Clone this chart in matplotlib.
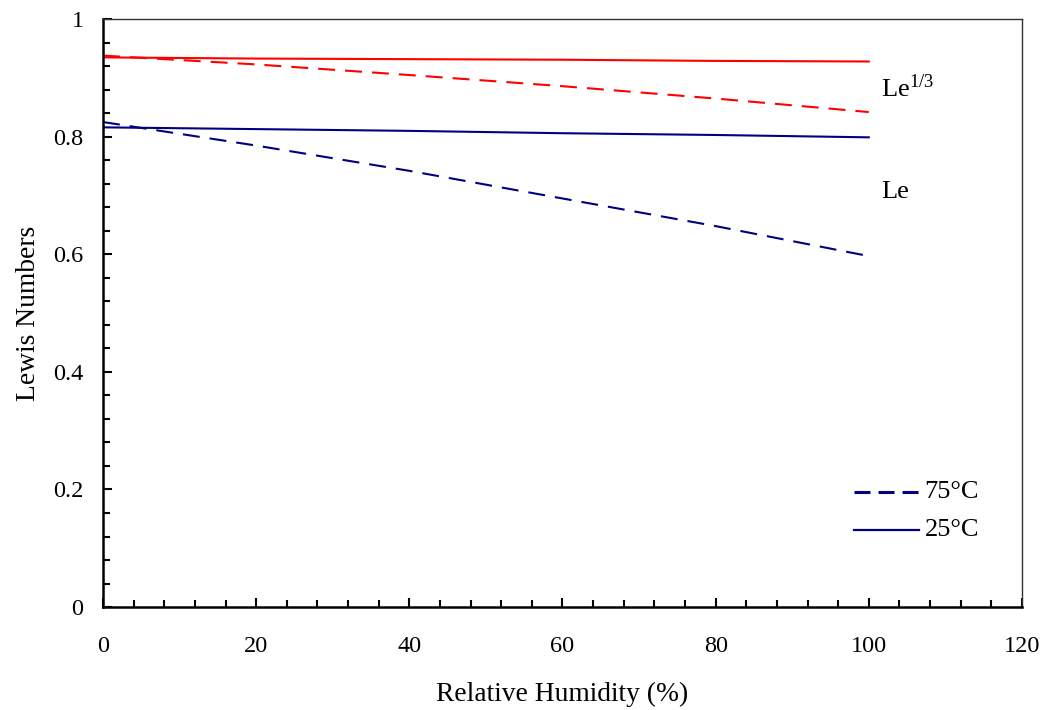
import matplotlib.pyplot as plt
from matplotlib.ticker import MultipleLocator

plt.rcParams['font.family'] = ['Liberation Serif', 'DejaVu Serif']
plt.rcParams['mathtext.fontset'] = 'stix'
plt.rcParams['lines.scale_dashes'] = False

# Lewis numbers vs relative humidity
rh = [0, 20, 40, 60, 80, 100]
le_25 = [0.816, 0.813, 0.810, 0.806, 0.803, 0.799]
le_75 = [0.825, 0.785, 0.742, 0.695, 0.648, 0.597]
le13_25 = [0.935, 0.933, 0.932, 0.931, 0.929, 0.928]
le13_75 = [0.938, 0.923, 0.905, 0.886, 0.865, 0.842]

fig = plt.figure(figsize=(10.46, 7.10), dpi=100)
ax = fig.add_axes([0.0985, 0.145, 0.8785, 0.828])

red = '#FF0000'
navy = '#000080'
dash = (0, (12.2, 7.2))

ax.plot(rh, le13_25, color=red, lw=1.5)
ax.plot(rh, le13_75, color=red, lw=1.5, linestyle=dash)
ax.plot(rh, le_25, color=navy, lw=1.5)
ax.plot(rh, le_75, color=navy, lw=1.5, linestyle=dash)

ax.text(101.6, 0.867, r'Le$^{\mathregular{1/3}}$', fontsize=19, va='baseline', ha='left')
ax.text(101.6, 0.696, 'Le', fontsize=19, va='baseline', ha='left')

# legend drawn by hand
ax.plot([98.1, 106.6], [0.196, 0.196], color=navy, lw=2.2, linestyle=(0, (11.5, 5.8)))
ax.plot([98.1, 106.6], [0.131, 0.131], color=navy, lw=1.6)
ax.text(107.3, 0.196, '75°C', fontsize=19, va='center', ha='left')
ax.text(107.3, 0.131, '25°C', fontsize=19, va='center', ha='left')

ax.set_xlim(0, 120)
ax.set_ylim(0, 1)
ax.xaxis.set_major_locator(MultipleLocator(20))
ax.xaxis.set_minor_locator(MultipleLocator(4))
ax.yaxis.set_major_locator(MultipleLocator(0.2))
ax.yaxis.set_minor_locator(MultipleLocator(0.04))
ax.set_yticks([0, 0.2, 0.4, 0.6, 0.8, 1.0], ['0', '0.2', '0.4', '0.6', '0.8', '1'])

ax.tick_params(which='both', direction='in', width=1.5, top=False, right=False, labelsize=17.5)
ax.tick_params(which='major', length=6.5)
ax.tick_params(which='minor', length=5)
ax.tick_params(axis='x', pad=21)
ax.tick_params(axis='y', pad=14)

for s in ['left', 'bottom']:
    ax.spines[s].set_linewidth(1.8)
    ax.spines[s].set_color('black')
for s in ['top', 'right']:
    ax.spines[s].set_linewidth(1.0)
    ax.spines[s].set_color('#333333')

ax.set_xlabel('Relative Humidity (%)', fontsize=19.8, labelpad=18)
ax.set_ylabel('Lewis Numbers', fontsize=19.8, labelpad=9)

fig.savefig('out.png', dpi=100)
